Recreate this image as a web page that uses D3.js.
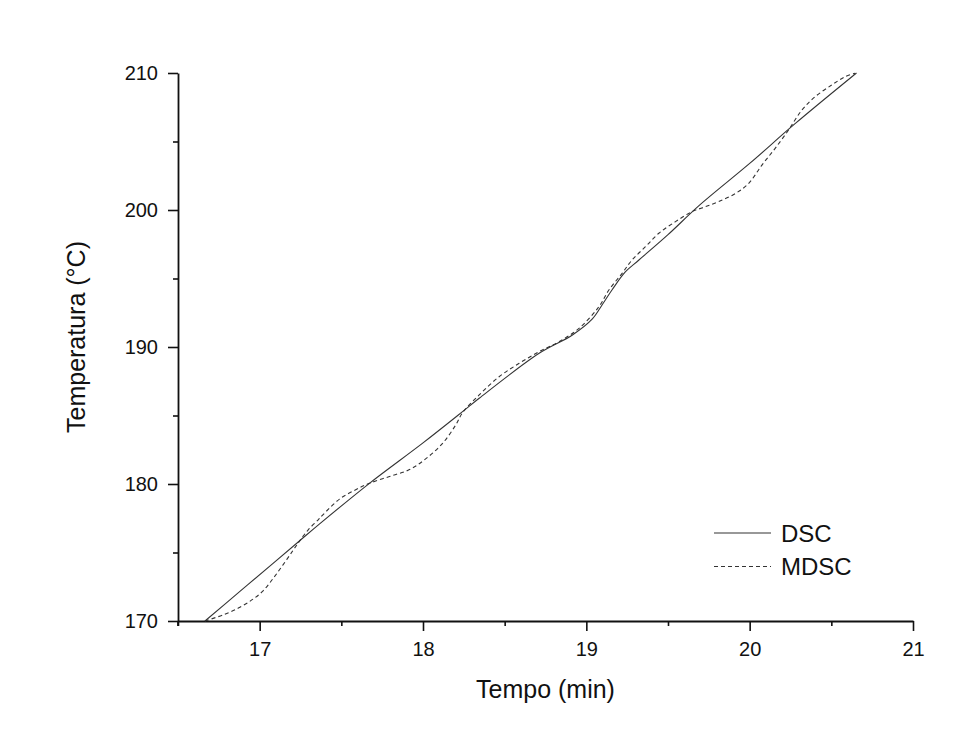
<!DOCTYPE html>
<html>
<head>
<meta charset="utf-8">
<script src="https://cdn.jsdelivr.net/npm/d3@7/dist/d3.min.js"></script>
<style>
  html, body { margin: 0; padding: 0; background: #ffffff; }
  svg { display: block; font-family: "Liberation Sans", Arial, sans-serif; }
</style>
</head>
<body>
<svg id="chart" width="965" height="755"></svg>
<script>
// Conventional DSC ramp: time (min) and temperature (°C)
const dscTime = [16.665, 16.879, 17.082, 17.245, 17.367, 17.672, 18.0, 18.242, 18.344, 18.711,
                 18.915, 19.037, 19.098, 19.159, 19.24, 19.322, 19.5, 19.688, 20.0, 20.278, 20.654];
const dscTemp = [170.0, 172.16, 174.21, 175.86, 177.09, 180.05, 183.0, 185.28, 186.26, 189.54,
                 190.88, 192.05, 193.1, 194.2, 195.5, 196.35, 198.2, 200.3, 203.4, 206.3, 210.0];

// Modulated DSC temperature: time (min) and temperature (°C)
const mdscTime = [16.665, 16.777, 16.879, 16.96, 17.021, 17.082, 17.143, 17.204, 17.245, 17.296,
                  17.357, 17.387, 17.489, 17.591, 17.672, 17.795, 17.917, 18.018, 18.12, 18.2,
                  18.242, 18.344, 18.466, 18.589, 18.711, 18.833, 18.955, 19.077, 19.138, 19.219,
                  19.28, 19.362, 19.444, 19.546, 19.647, 19.729, 19.81, 19.912, 19.993, 20.075,
                  20.156, 20.237, 20.319, 20.4, 20.502, 20.584, 20.645];
const mdscTemp = [170.0, 170.45, 171.0, 171.6, 172.2, 173.1, 174.1, 175.15, 175.85, 176.64,
                  177.37, 177.75, 178.9, 179.6, 180.05, 180.55, 181.05, 181.85, 182.97, 184.3,
                  185.2, 186.5, 187.83, 188.81, 189.66, 190.39, 191.36, 192.94, 194.16, 195.38,
                  196.35, 197.32, 198.3, 199.15, 199.88, 200.24, 200.61, 201.2, 201.93, 203.28,
                  204.5, 205.82, 207.28, 208.26, 209.12, 209.73, 209.98];

// Axis ticks
const xMajor = [17, 18, 19, 20, 21];
const xMinor = [16.5, 17.5, 18.5, 19.5, 20.5];
const yMajor = [170, 180, 190, 200, 210];
const yMinor = [175, 185, 195, 205];

const seriesNames = ["DSC", "MDSC"];

const svg = d3.select("#chart");

const x = d3.scaleLinear().domain([16.5, 21]).range([178, 913]);
const y = d3.scaleLinear().domain([170, 210]).range([621, 73]);

const axisColor = "#111";

// Minor ticks first, then major ticks with labels
svg.append("g")
  .attr("transform", "translate(0,621)")
  .call(d3.axisBottom(x).tickValues(xMinor).tickSize(5).tickSizeOuter(0).tickFormat(""))
  .call(g => g.select(".domain").remove());

svg.append("g")
  .attr("transform", "translate(178,0)")
  .call(d3.axisLeft(y).tickValues(yMinor).tickSize(5).tickSizeOuter(0).tickFormat(""))
  .call(g => g.select(".domain").remove());

svg.append("g")
  .attr("transform", "translate(0,621)")
  .call(d3.axisBottom(x).tickValues(xMajor).tickSize(10).tickSizeOuter(0).tickPadding(11).tickFormat(d3.format("d")));

svg.append("g")
  .attr("transform", "translate(178,0)")
  .call(d3.axisLeft(y).tickValues(yMajor).tickSize(10).tickSizeOuter(0).tickPadding(10).tickFormat(d3.format("d")));

svg.selectAll(".tick line").attr("stroke", axisColor).attr("stroke-width", 1.6);
svg.selectAll(".domain").attr("stroke", axisColor).attr("stroke-width", 1.8);
svg.selectAll(".tick text")
  .attr("fill", "#111")
  .style("font-size", "20px")
  .style("font-family", "'Liberation Sans', Arial, sans-serif");

// Extend the left axis line slightly below the origin
svg.append("line")
  .attr("x1", 178).attr("x2", 178)
  .attr("y1", 621).attr("y2", 626)
  .attr("stroke", axisColor).attr("stroke-width", 1.8);

// Axis titles
svg.append("text")
  .attr("x", 545.5).attr("y", 698)
  .attr("text-anchor", "middle")
  .attr("fill", "#111")
  .style("font-size", "25px")
  .text("Tempo (min)");

svg.append("text")
  .attr("transform", "translate(85,337) rotate(-90)")
  .attr("text-anchor", "middle")
  .attr("fill", "#111")
  .style("font-size", "25px")
  .text("Temperatura (°C)");

// Curves
const line = d3.line()
  .x(d => x(d[0]))
  .y(d => y(d[1]))
  .curve(d3.curveCatmullRom.alpha(0.5));

const dscData = d3.zip(dscTime, dscTemp);
const mdscData = d3.zip(mdscTime, mdscTemp);

svg.append("path")
  .datum(mdscData)
  .attr("d", line)
  .attr("fill", "none")
  .attr("stroke", "#333")
  .attr("stroke-width", 1.1)
  .attr("stroke-dasharray", "4,3");

svg.append("path")
  .datum(dscData)
  .attr("d", line)
  .attr("fill", "none")
  .attr("stroke", "#333")
  .attr("stroke-width", 1.1);

// Legend
const legend = svg.append("g").attr("transform", "translate(714,533)");
seriesNames.forEach((name, i) => {
  const g = legend.append("g").attr("transform", `translate(0,${i * 33.5})`);
  g.append("line")
    .attr("x1", 0).attr("x2", 57)
    .attr("y1", 0).attr("y2", 0)
    .attr("stroke", "#333")
    .attr("stroke-width", 1.1)
    .attr("stroke-dasharray", i === 1 ? "4,3" : null);
  g.append("text")
    .attr("x", 67).attr("y", 8.5)
    .attr("fill", "#111")
    .style("font-size", "24px")
    .text(name);
});
</script>
</body>
</html>
